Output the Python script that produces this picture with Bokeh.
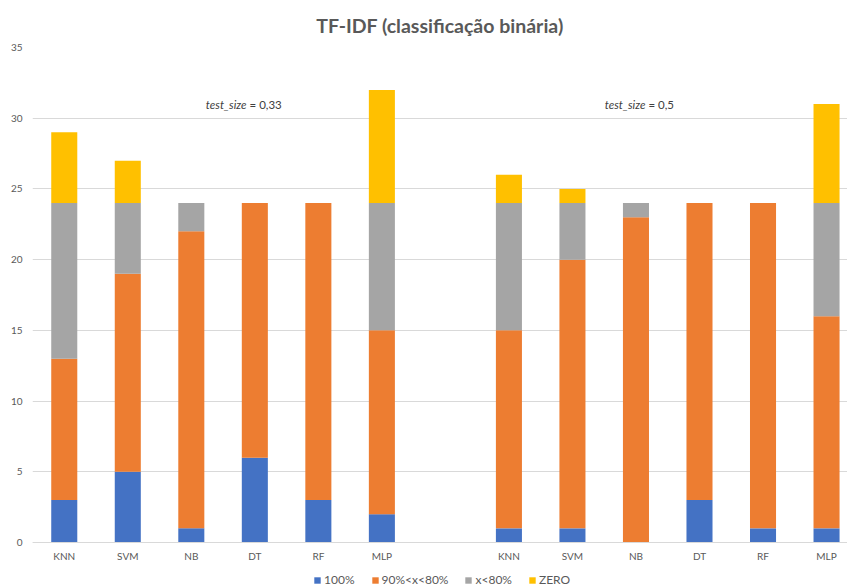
from bokeh.plotting import figure
from bokeh.models import ColumnDataSource, FixedTicker, Legend, LegendItem, Label, Range1d
from bokeh.embed import file_html
from bokeh.resources import INLINE

# --- data ---
models = ["KNN", "SVM", "NB", "DT", "RF", "MLP"]
slots_033 = [0, 1, 2, 3, 4, 5]
slots_05 = [7, 8, 9, 10, 11, 12]
series = ["100%", "90%<x<80%", "x<80%", "ZERO"]
colors = ["#4472C4", "#ED7D31", "#A5A5A5", "#FFC000"]

# test_size = 0,33
v100_033 = [3, 5, 1, 6, 3, 2]
v90_033 = [10, 14, 21, 18, 21, 13]
v80_033 = [11, 5, 2, 0, 0, 9]
vzero_033 = [5, 3, 0, 0, 0, 8]

# test_size = 0,5
v100_05 = [1, 1, 0, 3, 1, 1]
v90_05 = [14, 19, 23, 21, 23, 15]
v80_05 = [9, 4, 1, 0, 0, 8]
vzero_05 = [2, 1, 0, 0, 0, 7]

y_ticks = [0, 5, 10, 15, 20, 25, 30, 35]
title_text = "TF-IDF (classificação binária)"
note_033 = ("test_size", "\u00a0= 0,33")
note_05 = ("test_size", "\u00a0= 0,5")

FONT = "Lato"
TXT = "#595959"

xs = slots_033 + slots_05
src = ColumnDataSource(dict(
    x=xs,
    **{
        series[0]: v100_033 + v100_05,
        series[1]: v90_033 + v90_05,
        series[2]: v80_033 + v80_05,
        series[3]: vzero_033 + vzero_05,
    }
))

# frame extends to the bottom of the page so the legend can sit under the axis
p = figure(frame_width=815, frame_height=541, output_backend="svg", toolbar_location=None,
           x_range=Range1d(-0.5, 12.33), y_range=Range1d(-46 * 35 / 495, 35),
           min_border_left=32, min_border_right=0, min_border_top=47, min_border_bottom=0)

renderers = p.vbar_stack(series, x="x", width=0.41, color=colors, source=src, line_width=0)

p.title.text = title_text
p.title.align = "center"
p.title.text_font = FONT
p.title.text_font_size = "19.5px"
p.title.text_font_style = "bold"
p.title.text_color = TXT
p.title.standoff = 21

p.outline_line_color = None
p.background_fill_color = "white"
p.border_fill_color = "white"

p.xgrid.grid_line_color = None
p.ygrid.grid_line_color = "#D9D9D9"
p.ygrid.ticker = FixedTicker(ticks=y_ticks)

p.yaxis.ticker = FixedTicker(ticks=y_ticks)
p.yaxis.axis_line_color = None
p.yaxis.major_tick_line_color = None
p.yaxis.minor_tick_line_color = None
p.yaxis.major_tick_out = 0
p.yaxis.major_tick_in = 0
p.yaxis.major_label_standoff = 10
p.yaxis.major_label_text_font = FONT
p.yaxis.major_label_text_font_size = "10px"
p.yaxis.major_label_text_color = TXT

p.xaxis.fixed_location = 0
p.xaxis.ticker = FixedTicker(ticks=xs)
p.xaxis.major_label_overrides = {x: m for x, m in zip(xs, models + models)}
p.xaxis.axis_line_color = "#D9D9D9"
p.xaxis.major_tick_line_color = None
p.xaxis.minor_tick_line_color = None
p.xaxis.major_tick_out = 0
p.xaxis.major_tick_in = 0
p.xaxis.major_label_standoff = 7
p.xaxis.major_label_text_font = FONT
p.xaxis.major_label_text_font_size = "10px"
p.xaxis.major_label_text_color = TXT

legend = Legend(items=[LegendItem(label=s, renderers=[r]) for s, r in zip(series, renderers)],
                orientation="horizontal", location=(281, 1),
                label_text_font=FONT, label_text_font_size="12px", label_text_color=TXT,
                label_height=12,
                glyph_width=8, glyph_height=8, label_standoff=3, spacing=16,
                padding=0, margin=0, border_line_color=None, background_fill_alpha=0)
p.add_layout(legend, "center")

def add_note(x, y, parts):
    it = Label(x=x, y=y, text=parts[0], text_font=FONT, text_font_size="11.5px",
               text_font_style="italic", text_color="#404040", text_align="right",
               text_baseline="middle")
    rest = Label(x=x, y=y, text=parts[1], text_font=FONT, text_font_size="11.5px",
                 text_color="#404040", text_align="left", text_baseline="middle")
    p.add_layout(it)
    p.add_layout(rest)

add_note(2.87, 31.0, note_033)
add_note(9.15, 31.0, note_05)

open("out.html", "w").write(file_html(p, INLINE))
